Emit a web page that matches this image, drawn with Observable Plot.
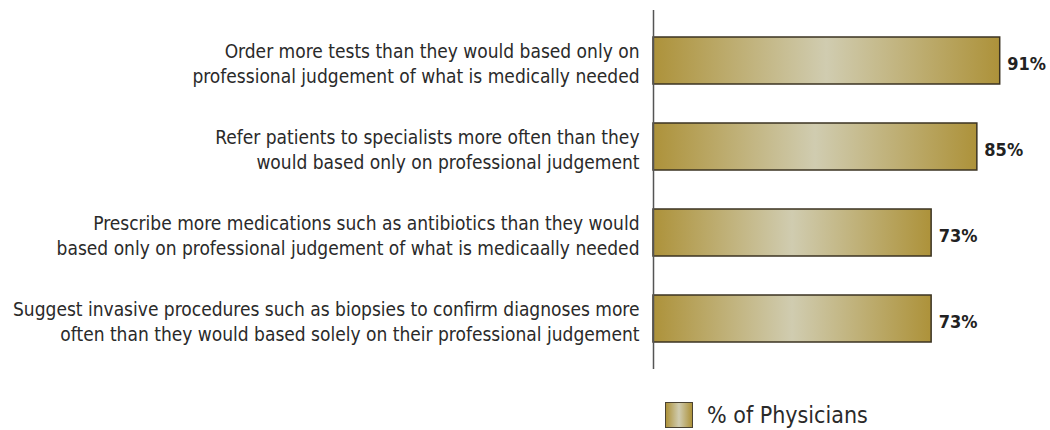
<!DOCTYPE html>
<html>
<head>
<meta charset="utf-8">
<script src="https://cdn.jsdelivr.net/npm/d3@7"></script>
<script src="https://cdn.jsdelivr.net/npm/@observablehq/plot@0.6"></script>
<style>
  html, body { margin: 0; padding: 0; background: #fff; }
  #wrap { position: relative; width: 1050px; height: 430px; overflow: hidden;
          font-family: "Liberation Sans Narrow", "DejaVu Sans Condensed", "Roboto", sans-serif; }
  #legend { position: absolute; left: 665px; top: 402px; display: flex; align-items: center; }
  #legend .sw { width: 26px; height: 24px; border: 1.5px solid #4a4232;
                background: linear-gradient(to right, #ad923a, #d0ccb0 50%, #ad923a); }
  #legend .lab { margin-left: 14px; font-size: 23px; color: #2a2a2a; line-height: 24px; }
</style>
</head>
<body>
<div id="wrap"><div id="chart"></div>
  <div id="legend"><div class="sw"></div><div class="lab">% of Physicians</div></div>
</div>
<script>
const categories = [
  "Order more tests than they would based only on\nprofessional judgement of what is medically needed",
  "Refer patients to specialists more often than they\nwould based only on professional judgement",
  "Prescribe more medications such as antibiotics than they would\nbased only on professional judgement of what is medicaally needed",
  "Suggest invasive procedures such as biopsies to confirm diagnoses more\noften than they would based solely on their professional judgement"
];
const values = [91, 85, 73, 73];
const seriesName = "% of Physicians";

const data = categories.map((c, i) => ({category: c, value: values[i]}));

const defs = () => {
  const d = d3.create("svg:defs");
  const g = d.append("linearGradient").attr("id", "gold").attr("x1", "0").attr("x2", "1").attr("y1", "0").attr("y2", "0");
  g.append("stop").attr("offset", "0%").attr("stop-color", "#ad923a");
  g.append("stop").attr("offset", "50%").attr("stop-color", "#d0ccb0");
  g.append("stop").attr("offset", "100%").attr("stop-color", "#ad923a");
  return d.node();
};

const chart = Plot.plot({
  width: 1050,
  height: 380,
  marginLeft: 653,
  marginRight: 16,
  marginTop: 10,
  marginBottom: 11,
  style: {fontFamily: '"Liberation Sans Narrow", "DejaVu Sans Condensed", sans-serif', background: "#fff"},
  x: {domain: [0, 100], axis: null},
  y: {domain: categories, axis: null, paddingInner: 0.45, paddingOuter: 0.29},
  marks: [
    defs,
    Plot.barX(data, {x: "value", y: "category", fill: "url(#gold)", stroke: "#3b3322", strokeWidth: 1.5}),
    Plot.ruleX([0], {stroke: "#555", strokeWidth: 1.5}),
    Plot.text(data, {x: 0, y: "category", text: "category", textAnchor: "end", dx: -14, dy: 1,
      fontSize: 19, lineHeight: 1.32, fill: "#2a2a2a"}),
    Plot.text(data, {x: "value", y: "category", text: d => `${d.value}%`, textAnchor: "start", dx: 7, dy: 3,
      fontSize: 18, fontWeight: "bold", fill: "#222"})
  ]
});
document.getElementById("chart").appendChild(chart);
</script>
</body>
</html>
